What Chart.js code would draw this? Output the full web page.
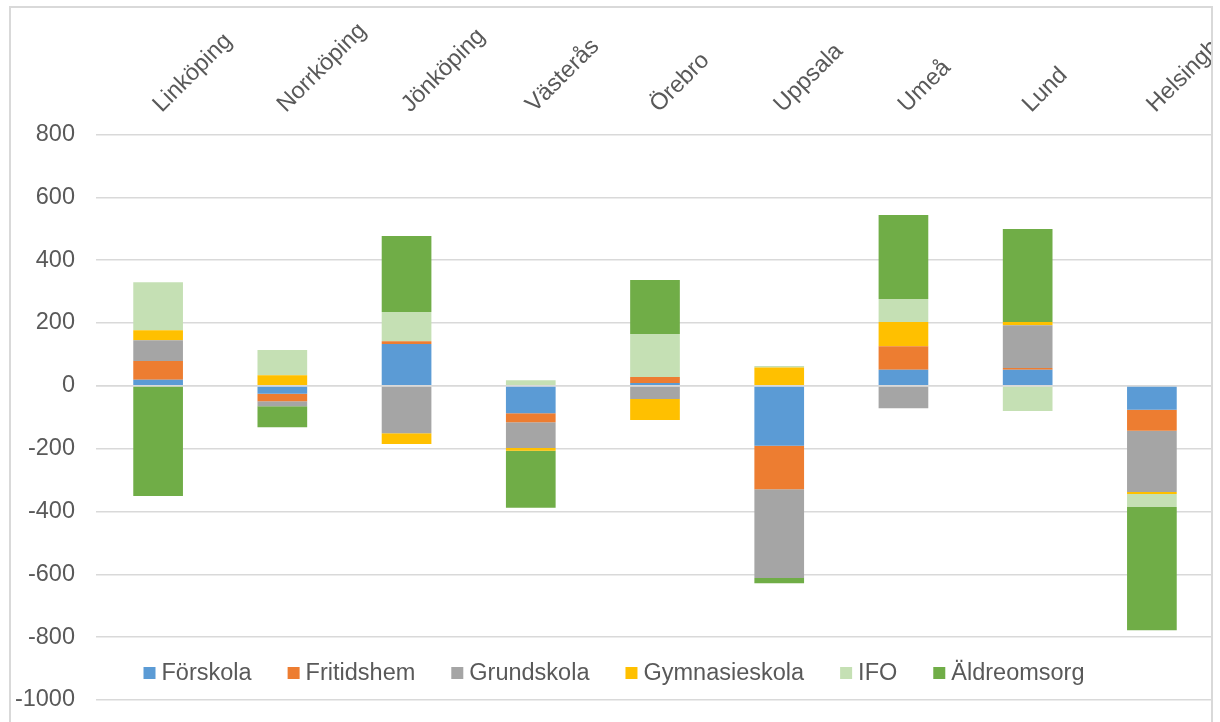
<!DOCTYPE html>
<html>
<head>
<meta charset="utf-8">
<script src="https://cdn.jsdelivr.net/npm/chart.js@4/dist/chart.umd.min.js"></script>
<style>
  html, body { margin: 0; padding: 0; background: #fff; }
  #wrap { position: relative; width: 1213px; height: 722px; overflow: hidden; }
  #frame {
    position: absolute; left: 9px; top: 6px; width: 1204px; height: 800px;
    border: 2px solid #d9d9d9; box-sizing: border-box; pointer-events: none;
  }
  canvas { position: absolute; left: 0; top: 0; }
</style>
</head>
<body>
<div id="wrap">
  <canvas id="chart" width="1214" height="722"></canvas>
  <div id="frame"></div>
</div>
<script>
const categories = ["Linköping", "Norrköping", "Jönköping", "Västerås", "Örebro", "Uppsala", "Umeå", "Lund", "Helsingborg"];

const forskola      = [19, -25, 133, -87, 9, -191, 51, 51, -76];
const fritidshem    = [60, -24, 9, -29, 19, -138, 75, 6, -67];
const grundskola    = [66, -16, -151, -82, -42, -283, -71, 136, -195];
const gymnasieskola = [32, 34, -34, -9, -67, 58, 77, 10, -6];
const ifo           = [153, 80, 93, 18, 137, 5, 73, -80, -42];
const aldreomsorg   = [-351, -67, 242, -181, 172, -16, 268, 296, -392];

const yMin = -1000;
const yMax = 800;
const yStep = 200;

const FONT = '"Liberation Sans", Arial, sans-serif';
const TEXT = "#595959";
const GRID = "#d9d9d9";

// zero line is drawn on top of the bars, like the Excel axis
const zeroLine = {
  id: "zeroLine",
  afterDatasetsDraw(chart) {
    const { ctx, chartArea } = chart;
    const y = chart.scales.y.getPixelForValue(0);
    ctx.save();
    ctx.strokeStyle = GRID;
    ctx.lineWidth = 1.5;
    ctx.beginPath();
    ctx.moveTo(chartArea.left, y);
    ctx.lineTo(chartArea.right, y);
    ctx.stroke();
    ctx.restore();
  }
};

// legend sits inside the plot area, near the bottom
const insideLegend = {
  id: "insideLegend",
  afterDraw(chart) {
    const ctx = chart.ctx;
    const box = 12, gapText = 6, gapItem = 36;
    const cx = 614, cy = 673;
    ctx.save();
    ctx.font = "23.5px " + FONT;
    ctx.textBaseline = "middle";
    const items = chart.data.datasets.map(ds => ({
      label: ds.label, color: ds.backgroundColor, w: ctx.measureText(ds.label).width
    }));
    let total = 0;
    items.forEach((it, i) => { total += box + gapText + it.w + (i ? gapItem : 0); });
    let x = cx - total / 2;
    items.forEach(it => {
      ctx.fillStyle = it.color;
      ctx.fillRect(x, cy - box / 2, box, box);
      ctx.fillStyle = TEXT;
      ctx.fillText(it.label, x + box + gapText, cy + 1);
      x += box + gapText + it.w + gapItem;
    });
    ctx.restore();
  }
};

const ctx = document.getElementById("chart").getContext("2d");

new Chart(ctx, {
  type: "bar",
  data: {
    labels: categories,
    datasets: [
      { label: "Förskola", data: forskola, backgroundColor: "#5b9bd5" },
      { label: "Fritidshem", data: fritidshem, backgroundColor: "#ed7d31" },
      { label: "Grundskola", data: grundskola, backgroundColor: "#a5a5a5" },
      { label: "Gymnasieskola", data: gymnasieskola, backgroundColor: "#ffc000" },
      { label: "IFO", data: ifo, backgroundColor: "#c5e0b4" },
      { label: "Äldreomsorg", data: aldreomsorg, backgroundColor: "#70ad47" }
    ]
  },
  options: {
    responsive: false,
    animation: false,
    layout: { padding: { top: 0, left: 0, right: 0, bottom: 22 } },
    datasets: {
      bar: { categoryPercentage: 1, barPercentage: 0.4, borderWidth: 0 }
    },
    plugins: {
      legend: { display: false },
      tooltip: { enabled: false }
    },
    scales: {
      x: {
        position: "top",
        stacked: true,
        grid: { display: false, drawTicks: false },
        border: { display: false },
        ticks: {
          autoSkip: false,
          minRotation: 45,
          maxRotation: 45,
          padding: 16,
          labelOffset: 19,
          color: TEXT,
          font: { family: FONT, size: 23.5 }
        },
        afterFit(scale) {
          scale.height = 134.5;
          scale.paddingLeft = 0;
          scale.paddingRight = 0;
        }
      },
      y: {
        stacked: true,
        min: yMin,
        max: yMax,
        grid: { color: GRID, lineWidth: 1.5, drawTicks: false },
        border: { display: false },
        ticks: {
          stepSize: yStep,
          padding: 21,
          color: TEXT,
          font: { family: FONT, size: 23.5 },
          callback: v => String(v)
        },
        afterFit(scale) {
          scale.width = 96;
          scale.paddingTop = 0;
          scale.paddingBottom = 0;
        }
      }
    }
  },
  plugins: [zeroLine, insideLegend]
});
</script>
</body>
</html>
